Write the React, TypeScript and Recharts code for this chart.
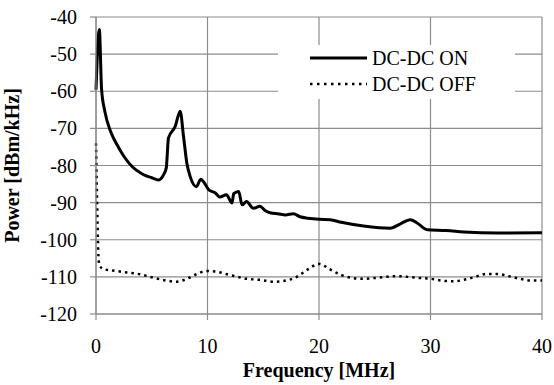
import React from "react";
import { CartesianGrid, Label, Legend, Line, LineChart, XAxis, YAxis } from "recharts";

// DC-DC ON trace (frequency MHz / power dBm/kHz)
const onFreq = [0, 0.3, 0.5, 0.8, 1.25, 1.6, 2, 2.5, 3, 3.5, 4, 4.5, 5, 5.6, 6.0, 6.3, 6.5, 7.1, 7.55, 7.85, 8.15, 8.45, 9.0, 9.4, 9.7, 10.1, 10.7, 11.1, 11.7, 12.2, 12.35, 12.8, 13.1, 13.5, 14.1, 14.7, 15.2, 15.7, 16.3, 17, 17.7, 18.3, 19, 20, 21, 22, 24, 26.4, 27.3, 28.2, 28.8, 29.7, 31.4, 33, 36, 40];
const onPower = [-59.6, -43.4, -59.5, -65.5, -70.4, -72.8, -75, -77.5, -79.5, -81, -82, -82.8, -83.3, -83.9, -82.8, -80.7, -72.6, -69.5, -65.4, -72.2, -79.4, -83, -85.7, -83.7, -84.6, -86.5, -87.4, -88.5, -87.9, -90.1, -87.6, -87, -90.6, -89.7, -91.5, -91, -92.2, -92.8, -93, -93.3, -93, -93.8, -94.2, -94.5, -94.6, -95.3, -96.3, -96.9, -95.7, -94.6, -95.5, -97.3, -97.5, -97.9, -98.2, -98.1];

// DC-DC OFF trace
const offFreq = [0, 0.1, 0.2, 0.3, 0.66, 1.5, 2.75, 3.95, 5.1, 6.3, 7.2, 8.1, 9.0, 9.9, 10.8, 12, 13.5, 14.7, 16, 17, 18, 19, 20, 21, 22, 23, 24, 25, 26, 27, 28, 29, 30, 31, 32, 33, 34, 35, 36, 37, 38, 39, 40];
const offPower = [-74, -90, -103, -106.8, -107.9, -108.3, -108.8, -109.3, -110.2, -111, -111.3, -110.6, -109.3, -108.4, -108.6, -109.5, -110.5, -110.8, -111.3, -111, -110, -108, -106.5, -108, -109.5, -110.3, -110.5, -110.3, -110, -109.8, -110, -110.3, -110.5, -111, -111.2, -110.8, -110, -109.2, -109.2, -109.8, -110.5, -111, -111];

const seriesNames = ["DC-DC ON", "DC-DC OFF"];
const xTicks = [0, 10, 20, 30, 40];
const yTicks = [-120, -110, -100, -90, -80, -70, -60, -50, -40];

const onData = onFreq.map((f, i) => ({ f, p: onPower[i] }));
const offData = offFreq.map((f, i) => ({ f, p: offPower[i] }));

const FONT = "'Times New Roman', 'Liberation Serif', 'DejaVu Serif', serif";
const GRID = "#8c8c8c";

function renderLegend(props: any) {
  const items = [...(props.payload || [])].sort(
    (a: any, b: any) => seriesNames.indexOf(a.value) - seriesNames.indexOf(b.value)
  );
  return (
    <div style={{ fontFamily: FONT, fontSize: 20, color: "#000" }}>
      {items.map((it: any, i: number) => {
        const dashed = it.payload && it.payload.strokeDasharray;
        return (
          <div key={i} style={{ display: "flex", alignItems: "center", height: 26 }}>
            <svg width={62} height={10} style={{ marginLeft: 32 }}>
              <line
                x1={0}
                x2={57}
                y1={5}
                y2={5}
                stroke="#000"
                strokeWidth={dashed ? 2.5 : 3}
                strokeDasharray={dashed ? "2.5 4.5" : undefined}
              />
            </svg>
            <span style={{ lineHeight: "26px", fontFamily: FONT }}>{it.value}</span>
          </div>
        );
      })}
    </div>
  );
}

const tickStyle = { fill: "#000", fontFamily: FONT, fontSize: 20 };

export default function App() {
  return (
    <div style={{ position: "absolute", left: 0, top: 0, fontFamily: FONT }}>
      <LineChart width={554} height={385} margin={{ top: 17, right: 12, bottom: 0, left: 0 }}>
        <CartesianGrid stroke={GRID} strokeWidth={1.2} />
        <XAxis
          type="number"
          dataKey="f"
          domain={[0, 40]}
          ticks={xTicks}
          height={71}
          stroke={GRID}
          strokeWidth={1.2}
          tickSize={6}
          tickMargin={19}
          tick={tickStyle}
        >
          <Label
            value="Frequency [MHz]"
            position="insideBottom"
            offset={8}
            style={{ fontFamily: FONT, fontSize: 20, fontWeight: "bold", fill: "#000" }}
          />
        </XAxis>
        <YAxis
          type="number"
          domain={[-120, -40]}
          ticks={yTicks}
          width={96}
          stroke={GRID}
          strokeWidth={1.2}
          tickSize={6}
          tickMargin={13}
          tick={tickStyle}
        >
          <Label
            content={(p: any) => {
              const vb = p.viewBox || {};
              const cy = (vb.y || 0) + (vb.height || 0) / 2;
              return (
                <text
                  x={19}
                  y={cy}
                  transform={`rotate(-90, 19, ${cy})`}
                  textAnchor="middle"
                  style={{ fontFamily: FONT, fontSize: 20, fontWeight: "bold", fill: "#000" }}
                >
                  Power [dBm/kHz]
                </text>
              );
            }}
          />
        </YAxis>
        <Legend
          layout="horizontal"
          verticalAlign="middle"
          align="center"
          content={renderLegend}
          wrapperStyle={{ left: 278, top: 45, width: 237, height: 54, background: "#fff" }}
        />
        <Line
          data={onData}
          dataKey="p"
          name={seriesNames[0]}
          stroke="#000"
          strokeWidth={3}
          dot={false}
          type="monotone"
          isAnimationActive={false}
        />
        <Line
          data={offData}
          dataKey="p"
          name={seriesNames[1]}
          stroke="#000"
          strokeWidth={2.5}
          strokeDasharray="2.5 4"
          dot={false}
          type="monotone"
          isAnimationActive={false}
        />
      </LineChart>
    </div>
  );
}
